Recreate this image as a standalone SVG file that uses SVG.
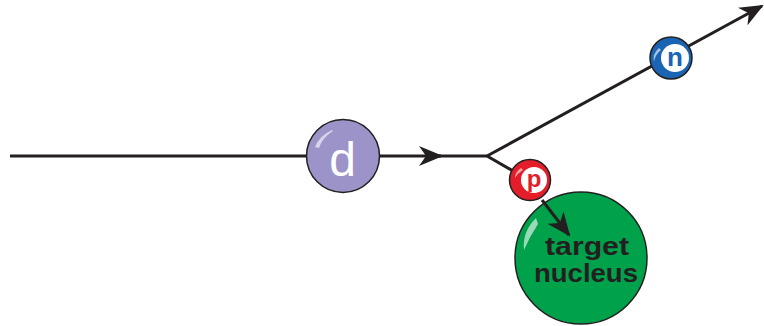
<svg xmlns="http://www.w3.org/2000/svg" width="764" height="326" viewBox="0 0 764 326">
  <style>
    .track { stroke: #231f20; stroke-width: 3; fill: none; }
    .ball { stroke: #231f20; stroke-width: 1.5; }
    .shine { fill: #ffffff; opacity: 0.6; }
    .lbl { font-family: "Liberation Sans", Arial, sans-serif; text-anchor: middle; }
  </style>
  <defs>
    <marker id="head" viewBox="0 0 24 20" refX="22" refY="10" markerWidth="24" markerHeight="20" markerUnits="userSpaceOnUse" orient="auto">
      <path d="M0,0 L24,10 L0,20 L7,10 Z" fill="#231f20"/>
    </marker>
  </defs>

  <rect width="764" height="326" fill="#ffffff"/>

  <!-- particle tracks -->
  <g id="connectors">
    <line class="track" x1="10" y1="156" x2="441" y2="156" marker-end="url(#head)"/>
    <line class="track" x1="430" y1="156" x2="487" y2="156"/>
    <line class="track" x1="487" y1="156" x2="762" y2="6" marker-end="url(#head)"/>
    <line class="track" x1="487" y1="156" x2="520" y2="175"/>
  </g>

  <!-- target nucleus -->
  <g id="nucleus">
    <circle class="ball" cx="581" cy="258" r="66" fill="#00a14b"/>
    <path class="shine" d="M536,218 Q522,232 524,250 Q530,236 538,224 Z"/>
    <text class="lbl" x="587" y="255" font-size="25" font-weight="bold" fill="#231f20" textLength="84" lengthAdjust="spacingAndGlyphs">target</text>
    <text class="lbl" x="586" y="282" font-size="25" font-weight="bold" fill="#231f20" textLength="104" lengthAdjust="spacingAndGlyphs">nucleus</text>
  </g>

  <!-- proton -->
  <g id="proton">
    <circle class="ball" cx="530" cy="180" r="20.5" fill="#e31e2a"/>
    <circle cx="534" cy="180" r="13" fill="#ffffff"/>
    <path class="shine" d="M521,168 Q515,172 515,178 Q518,173 523,170 Z"/>
    <text class="lbl" x="534" y="187" font-size="24" font-weight="bold" fill="#e31e2a">p</text>
  </g>

  <!-- proton into nucleus -->
  <g id="capture">
    <line class="track" x1="542" y1="200" x2="569" y2="235" marker-end="url(#head)"/>
  </g>

  <!-- deuteron -->
  <g id="deuteron">
    <circle class="ball" cx="343" cy="156" r="36.5" fill="#9c94c9"/>
    <path class="shine" d="M332,130 Q319,136 315,147 L319,148 Q322,138 333,131 Z"/>
    <text class="lbl" x="342.5" y="176" font-size="48" fill="#ffffff">d</text>
  </g>

  <!-- neutron -->
  <g id="neutron">
    <circle class="ball" cx="671" cy="58" r="21" fill="#1a64b4"/>
    <circle cx="675" cy="58" r="14" fill="#ffffff"/>
    <path class="shine" d="M659,48 Q652,54 654,62 Q655,55 661,50 Z"/>
    <text class="lbl" x="675" y="66" font-size="26" font-weight="bold" fill="#1a64b4">n</text>
  </g>
</svg>
